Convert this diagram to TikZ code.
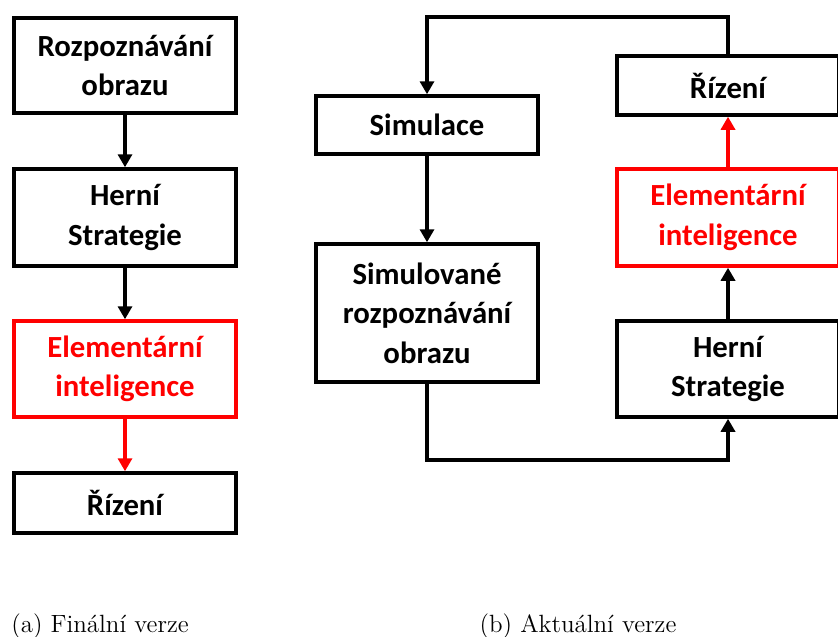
\documentclass[tikz,border=0pt]{standalone}
\usepackage{fontspec}
\usepackage{tikz}
\usetikzlibrary{arrows.meta}
\newfontfamily\boxfont{Carlito}
\definecolor{elemred}{rgb}{1,0,0}

\begin{document}
\begin{tikzpicture}[x=0.02cm,y=-0.02cm,
	block/.style={draw=black,line width=2pt,fill=white,minimum width=4.45cm,align=center,
		font=\boxfont\bfseries\fontsize{17.5}{22.5}\selectfont,inner sep=0pt},
	redblock/.style={block,draw=elemred,text=elemred},
	link/.style={line width=2pt,-{Triangle[width=0.28cm,length=0.26cm]}},
	redlink/.style={link,draw=elemred,-{Triangle[width=0.28cm,length=0.26cm,fill=elemred]}}]
			\useasboundingbox (0,0) rectangle (838,636);
			% (a) final version
			\node (rozp1) at (125,65.5) [block,minimum height=1.9cm] {Rozpoznávání\\obrazu};
			\node (strat1) at (125,217.5) [block,minimum height=1.94cm] {Herní\\Strategie};
			\node (elem1) at (125,369) [redblock,minimum height=1.92cm] {Elementární\\inteligence};
			\node (riz1) at (125,503) [block,minimum height=1.2cm] {Řízení};
			
			\draw[link] (rozp1) -- (strat1);
			\draw[link] (strat1) -- (elem1);
			\draw[redlink] (elem1) -- (riz1);
			
			% (b) current version
			\node (sim) at (427,125) [block,minimum height=1.16cm] {Simulace};
			\node (simrozp) at (427,313) [block,minimum height=2.76cm] {Simulované\\rozpoznávání\\obrazu};
			\node (riz2) at (728,85.5) [block,minimum height=1.18cm] {Řízení};
			\node (elem2) at (728,217.5) [redblock,minimum height=1.94cm] {Elementární\\inteligence};
			\node (strat2) at (728,369) [block,minimum height=1.92cm] {Herní\\Strategie};
			
			\coordinate (top1) at (728,17);
			\coordinate (top2) at (427,17);
			\coordinate (bot1) at (427,460);
			\coordinate (bot2) at (728,460);
			
			\draw[link] (riz2.north) -- (top1) -- (top2) -- (sim.north);
			\draw[link] (sim) -- (simrozp);
			\draw[link] (simrozp.south) -- (bot1) -- (bot2) -- (strat2.south);
			\draw[link] (strat2) -- (elem2);
			\draw[redlink] (elem2) -- (riz2);
			
			\node (capa) at (100,626) {\fontsize{14.2}{16}\selectfont (a) Finální verze};
			\node (capb) at (578,626) {\fontsize{14.2}{16}\selectfont (b) Aktuální verze};
		\end{tikzpicture}
\end{document}
